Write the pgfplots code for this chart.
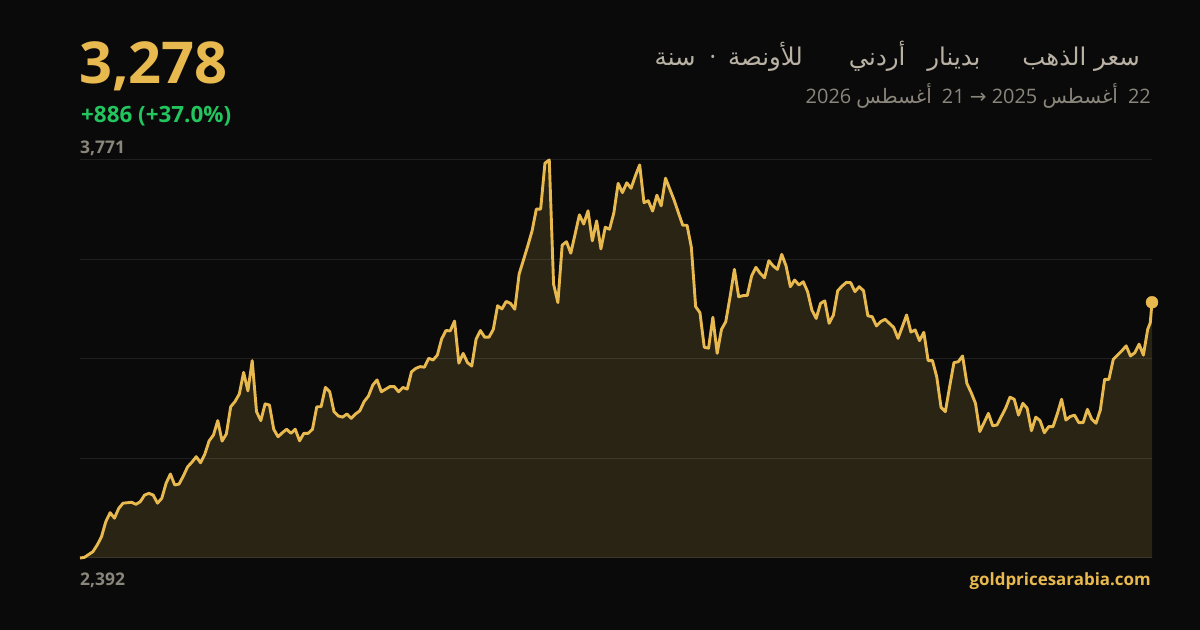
\documentclass[border=0pt]{standalone}
\usepackage{pgfplots}
\pgfplotsset{compat=1.18}
\usepackage{pgfplotstable}
\usepackage{fontspec}
\setmainfont{Open Sans}
\newfontfamily\arabicfont[Script=Arabic]{DejaVu Sans}
\newfontfamily\symfont{DejaVu Sans}
\TeXXeTstate=1

\definecolor{bg}{RGB}{10,10,10}
\definecolor{gold}{RGB}{232,185,78}
\definecolor{goldfill}{RGB}{42,36,20}
\definecolor{upgreen}{RGB}{34,197,94}
\definecolor{greytext}{RGB}{139,134,124}
\definecolor{titletext}{RGB}{184,177,164}

\newcommand{\ar}[1]{{\arabicfont\beginR #1\endR}}

% gold price in JOD per ounce, one point per trading day
\pgfplotstableread{
x y
0 2392
1 2394
3 2414
4 2437
5 2466
6 2518
7 2549
8 2530
9 2564
10 2582
12 2585
13 2578
14 2587
15 2610
16 2616
17 2610
18 2582
19 2599
20 2651
21 2683
22 2645
23 2648
24 2676
25 2708
26 2724
27 2743
28 2722
29 2752
30 2798
31 2818
32 2868
33 2797
34 2822
35 2916
36 2934
37 2960
38 3035
39 2971
40 3076
41 2899
42 2868
43 2926
44 2922
45 2838
46 2812
47 2826
48 2838
49 2824
50 2838
51 2798
52 2824
53 2824
54 2838
55 2916
56 2916
57 2983
58 2968
59 2899
60 2884
61 2880
62 2891
63 2876
64 2891
65 2902
66 2934
67 2953
68 2991
69 3009
70 2968
71 2977
72 2986
73 2986
74 2968
75 2983
76 2977
77 3037
78 3049
79 3055
80 3053
81 3084
82 3078
83 3095
84 3151
85 3180
86 3179
87 3213
88 3067
89 3101
90 3069
91 3057
92 3150
93 3180
94 3157
95 3157
96 3184
97 3266
98 3255
99 3281
100 3274
101 3254
102 3376
103 3424
104 3473
105 3525
106 3601
107 3601
108 3760
109 3771
110 3341
111 3277
112 3476
113 3488
114 3448
115 3514
116 3581
117 3549
118 3595
119 3491
120 3560
121 3463
122 3538
123 3531
124 3588
125 3690
126 3658
127 3692
128 3673
129 3716
130 3754
131 3623
132 3630
133 3594
134 3649
135 3612
136 3708
137 3670
138 3632
139 3588
140 3545
141 3545
142 3469
143 3263
144 3242
145 3122
146 3119
147 3226
148 3101
149 3184
150 3211
151 3297
152 3392
153 3297
154 3301
155 3302
156 3369
157 3399
158 3378
159 3363
160 3422
161 3404
162 3392
163 3444
164 3404
165 3332
166 3355
167 3338
168 3349
169 3315
170 3251
171 3222
172 3274
173 3283
174 3205
175 3234
176 3318
177 3334
178 3347
179 3346
180 3315
181 3332
182 3318
183 3231
184 3228
185 3196
186 3211
187 3219
188 3205
189 3191
190 3153
191 3193
192 3234
193 3175
194 3182
195 3145
196 3174
197 3076
198 3076
199 3020
200 2914
201 2899
202 2986
203 3069
204 3072
205 3092
206 2997
207 2965
208 2928
209 2830
210 2861
211 2893
212 2850
213 2853
214 2882
215 2911
216 2949
217 2942
218 2887
219 2928
220 2911
221 2833
222 2880
223 2868
224 2826
225 2847
226 2847
227 2891
228 2942
229 2870
230 2882
231 2887
232 2861
233 2861
234 2907
235 2873
236 2859
237 2905
238 3011
239 3011
240 3080
241 3095
242 3110
243 3127
244 3092
245 3103
246 3133
247 3095
248 3184
248.6 3207
249 3278
}\gold

\begin{document}
\begin{tikzpicture}[x=1bp,y=1bp]
\fill[bg] (0,0) rectangle (1200,630);
\coordinate (plotSW) at (80,72);

\begin{axis}[
    at={(plotSW)}, anchor=south west,
    scale only axis,
    width=1072bp, height=398bp,
    xmin=0, xmax=249,
    ymin=2392, ymax=3771,
    axis line style={draw=none},
    xtick=\empty,
    ytick={2392,2736.75,3081.5,3426.25,3771},
    yticklabels={},
    major tick length=0pt,
    ymajorgrids,
    grid style={white, opacity=0.09, line width=1bp},
    axis on top,
    clip=false,
]
    %% area under the curve
    \addplot[draw=none, fill=goldfill] table[x=x,y=y] {\gold} \closedcycle;
    %% the price line
    \addplot[gold, line width=2.9bp, line join=round, no marks] table[x=x,y=y] {\gold};
    %% last value
    \addplot[only marks, mark=*, mark size=6bp, gold, mark options={draw=gold, fill=gold}] coordinates {(249,3278)};
\end{axis}

%% headline numbers
\node[anchor=base west, inner sep=0, text=gold, font=\fontsize{58}{58}\selectfont\bfseries] at (79,546.5) {3,278};
\node[anchor=base west, inner sep=0, text=upgreen, font=\fontsize{22.5}{22.5}\selectfont\bfseries] at (81,507.5) {+886 (+37.0\%)};
\node[anchor=base west, inner sep=0, text=greytext, font=\fontsize{17.5}{17.5}\selectfont\bfseries] at (80,476.5) {3,771};
\node[anchor=base west, inner sep=0, text=greytext, font=\fontsize{17.5}{17.5}\selectfont\bfseries] at (80,44.5) {2,392};
\node[anchor=base east, inner sep=0, text=gold, font=\fontsize{17}{17}\selectfont\bfseries] at (1151,44.5) {goldpricesarabia.com};

%% title and date range
\node[anchor=base east, inner sep=0, text=titletext, font=\fontsize{24.5}{24.5}\selectfont] at (1140,564) {\ar{سنة}\hspace{14bp}·\hspace{12bp}\ar{للأونصة}\hspace{46bp}\ar{أردني}\hspace{22bp}\ar{بدينار}\hspace{42bp}\ar{سعر الذهب}};
\node[anchor=base east, inner sep=0, text=greytext, font=\fontsize{20}{20}\selectfont] at (1151,526) {2026 \ar{أغسطس}\hspace{10bp}21 {\symfont →} 2025 \ar{أغسطس}\hspace{10bp}22};
\end{tikzpicture}
\end{document}
